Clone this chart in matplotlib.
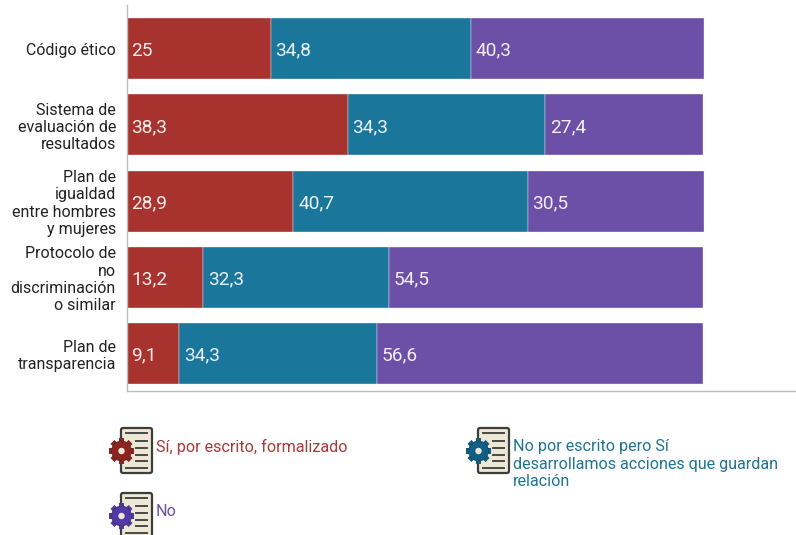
import matplotlib
matplotlib.use('Agg')
import matplotlib.pyplot as plt
from matplotlib.patches import Circle, FancyBboxPatch, RegularPolygon
import numpy as np

plt.rcParams['font.family'] = ['Roboto', 'DejaVu Sans']

categorias = ['Código ético', 'Sistema de\nevaluación de\nresultados',
              'Plan de\nigualdad\nentre hombres\ny mujeres',
              'Protocolo de\nno\ndiscriminación\no similar', 'Plan de\ntransparencia']
si_escrito = [25, 38.3, 28.9, 13.2, 9.1]
no_escrito = [34.8, 34.3, 40.7, 32.3, 34.3]
no = [40.3, 27.4, 30.5, 54.5, 56.6]
etiquetas = [['25', '38,3', '28,9', '13,2', '9,1'],
             ['34,8', '34,3', '40,7', '32,3', '34,3'],
             ['40,3', '27,4', '30,5', '54,5', '56,6']]
series = [si_escrito, no_escrito, no]
cores = ['#A8322D', '#1B769C', '#6C50A8']
W, H = 796, 535

fig = plt.figure(figsize=(W / 100, H / 100), dpi=100)
ax = fig.add_axes([127 / W, 1 - 391 / H, (W - 127) / W, 386 / H])

base = np.zeros(len(categorias))
y = np.arange(len(categorias))
for vals, cor, labs in zip(series, cores, etiquetas):
    ax.barh(y, vals, left=base, height=0.8, color=cor, edgecolor='#ffffff', linewidth=0.25)
    for yi, b, lab in zip(y, base, labs):
        ax.text(b + 0.8, yi + 0.03, lab, color='white', fontsize=13.8, va='center', ha='left',
                alpha=0.9)
    base = base + np.array(vals)

ax.set_xlim(0, (W - 127) / 5.76)
ax.set_ylim((391 - 48.5) / 76.25, (5 - 48.5) / 76.25)
ax.set_yticks(y)
ax.set_yticklabels(categorias, fontsize=11.5, color='#222222', linespacing=1.19)
ax.tick_params(axis='y', length=0, pad=8)
ax.set_xticks([])
for s in ['top', 'right']:
    ax.spines[s].set_visible(False)
for s in ['left', 'bottom']:
    ax.spines[s].set_color('#bdbdbd')
    ax.spines[s].set_linewidth(1.0)

# capa para la leyenda con iconos, en pixeles
ley = fig.add_axes([0, 0, 1, 1], facecolor='none')
ley.set_xlim(0, W)
ley.set_ylim(H, 0)
ley.axis('off')


def icono(x, top, cor):
    ley.add_patch(FancyBboxPatch((x, top), 31, 45, boxstyle='round,pad=0,rounding_size=2',
                                 fc='#EDE8D6', ec='#3d3d3a', lw=1.6, clip_on=True))
    cy = top + 23
    for yy, x0 in [(top + 5, x + 4), (top + 13, x + 14), (top + 20, x + 14), (top + 27, x + 14),
                   (top + 33, x + 14), (top + 40, x + 4)]:
        ley.plot([x0, x + 27], [yy, yy], color='#3d3d3a', lw=1.3, solid_capstyle='butt')
    # engranaje
    for ang in np.arange(0, 360, 45):
        a = np.radians(ang)
        ley.add_patch(RegularPolygon((x + 0.5 + 10 * np.cos(a), cy + 10 * np.sin(a)), 4, radius=4,
                                     orientation=a + np.pi / 4, fc=cor, ec='none', zorder=3))
    ley.add_patch(Circle((x + 0.5, cy), 10, fc=cor, ec='#333333', lw=0.4, zorder=3))
    ley.add_patch(Circle((x + 0.5, cy), 3.2, fc='#EDE8D6', ec='none', zorder=4))


icono(121, 428, '#8E2320')
icono(478, 428, '#0F5F86')
icono(121, 493, '#5238A6')
ley.text(156, 447, 'Sí, por escrito, formalizado', color='#A8383A', fontsize=11.6, va='center')
ley.text(513, 464, 'No por escrito pero Sí\ndesarrollamos acciones que guardan\nrelación',
         color='#1F7396', fontsize=11.6, va='center', linespacing=1.2)
ley.text(156, 512, 'No', color='#6552A6', fontsize=11.6, va='center')

fig.savefig('out.png', dpi=100)
